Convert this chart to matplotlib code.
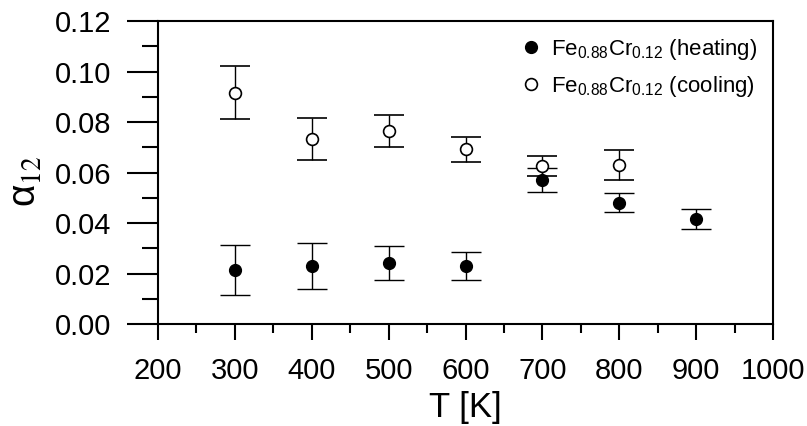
import numpy as np
import matplotlib
matplotlib.use("Agg")
import matplotlib.pyplot as plt
from matplotlib.ticker import MultipleLocator, FormatStrFormatter

plt.rcParams['font.family'] = ['Liberation Sans', 'DejaVu Sans']
plt.rcParams['mathtext.default'] = 'regular'

# alpha_12 vs temperature for Fe0.88Cr0.12
temp_heat = [300, 400, 500, 600, 700, 800, 900]
alpha_heat = [0.0214, 0.0230, 0.0240, 0.0230, 0.0570, 0.0480, 0.0416]
err_heat = [0.0100, 0.0091, 0.0067, 0.0054, 0.0047, 0.0038, 0.0041]

temp_cool = [300, 400, 500, 600, 700, 800]
alpha_cool = [0.0915, 0.0733, 0.0764, 0.0692, 0.0626, 0.0630]
err_cool = [0.0105, 0.0082, 0.0063, 0.0050, 0.0041, 0.0058]

fig = plt.figure(figsize=(8.07, 4.26), dpi=100)
ax = fig.add_axes([0.1958, 0.2394, 0.9579 - 0.1958, 0.9507 - 0.2394])

ax.errorbar(temp_heat, alpha_heat, yerr=err_heat, fmt='o', color='black',
            mfc='black', mec='black', ms=8.5, ecolor='black', elinewidth=1,
            capsize=11, capthick=1, label='Fe$_{0.88}$Cr$_{0.12}$ (heating)')
ax.errorbar(temp_cool, alpha_cool, yerr=err_cool, fmt='o', color='black',
            mfc='white', mec='black', mew=1.2, ms=8.5, ecolor='black',
            elinewidth=1, capsize=11, capthick=1,
            label='Fe$_{0.88}$Cr$_{0.12}$ (cooling)')

ax.set_xlim(200, 1000)
ax.set_ylim(0, 0.12)
ax.xaxis.set_major_locator(MultipleLocator(100))
ax.xaxis.set_minor_locator(MultipleLocator(50))
ax.yaxis.set_major_locator(MultipleLocator(0.02))
ax.yaxis.set_minor_locator(MultipleLocator(0.01))
ax.yaxis.set_major_formatter(FormatStrFormatter('%.2f'))

for s in ax.spines.values():
    s.set_linewidth(1.5)

ax.tick_params(axis='x', which='major', direction='out', length=11.5,
               width=1.5, labelsize=21, pad=12)
ax.tick_params(axis='x', which='minor', direction='out', length=6.5, width=1.5)
ax.tick_params(axis='y', which='major', direction='out', length=22.5,
               width=1.5, labelsize=21, pad=11)
ax.tick_params(axis='y', which='minor', direction='out', length=11.5, width=1.5)

ax.set_xlabel('T [K]', fontsize=25)
ax.set_ylabel(r'$\alpha_{\mathrm{12}}$', fontsize=28, math_fontfamily='stix')
ax.yaxis.set_label_coords(-0.185, 0.47)
ax.xaxis.set_label_coords(0.5, -0.22)

handles, labels = ax.get_legend_handles_labels()
handles = [h[0] for h in handles]
ax.legend(handles, labels, loc='upper right', bbox_to_anchor=(1.0, 1.0),
          frameon=False, fontsize=16, labelspacing=0.55, handletextpad=0.3,
          borderaxespad=0.3, handlelength=1.2)

fig.savefig('out.png', dpi=100)
